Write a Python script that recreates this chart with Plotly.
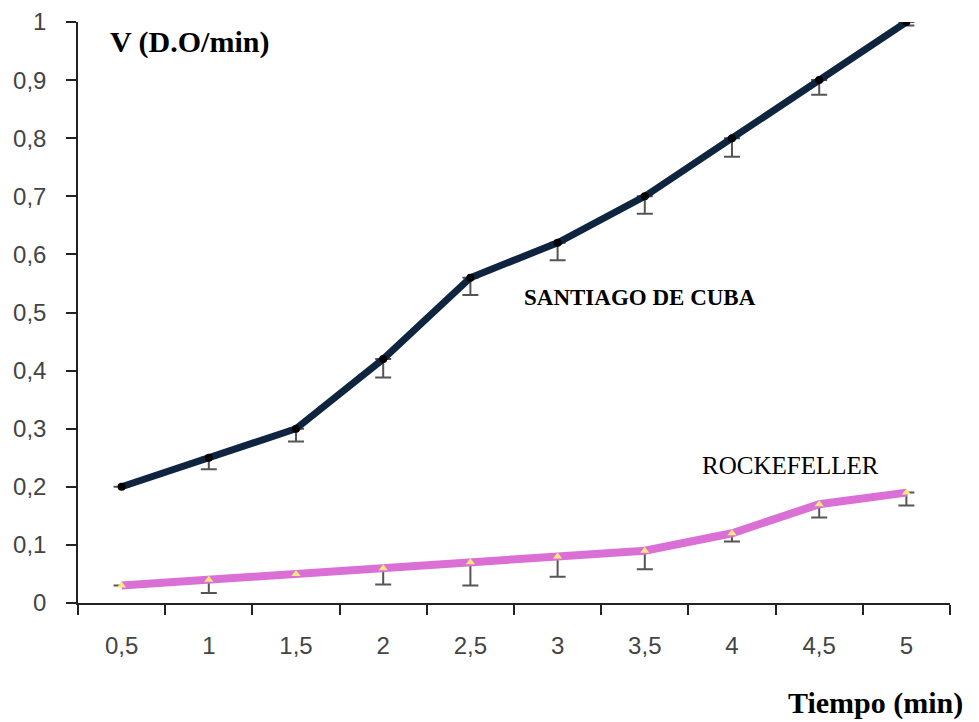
import plotly.graph_objects as go

categories = ["0,5", "1", "1,5", "2", "2,5", "3", "3,5", "4", "4,5", "5"]
santiago = [0.2, 0.25, 0.3, 0.42, 0.56, 0.62, 0.7, 0.8, 0.9, 1.0]
santiago_err = [None, 0.02, 0.022, 0.032, 0.03, 0.03, 0.03, 0.032, 0.025, 0.006]
rockefeller = [0.03, 0.04, 0.05, 0.06, 0.07, 0.08, 0.09, 0.12, 0.17, 0.19]
rockefeller_err = [None, 0.023, None, 0.028, 0.04, 0.035, 0.032, 0.014, 0.023, 0.022]
y_ticks = [0, 0.1, 0.2, 0.3, 0.4, 0.5, 0.6, 0.7, 0.8, 0.9, 1.0]
y_ticktext = ["0", "0,1", "0,2", "0,3", "0,4", "0,5", "0,6", "0,7", "0,8", "0,9", "1"]

fig = go.Figure()
fig.add_trace(go.Scatter(
    x=categories, y=santiago, mode="lines+markers", name="SANTIAGO DE CUBA",
    line=dict(color="#0F243E", width=7),
    marker=dict(color="black", size=8, symbol="circle"),
    error_y=dict(type="data", symmetric=False, array=[0]*len(santiago), arrayminus=santiago_err,
                 color="#555555", thickness=2, width=8),
))
fig.add_trace(go.Scatter(
    x=categories, y=rockefeller, mode="lines+markers", name="ROCKEFELLER",
    line=dict(color="#DA70D6", width=8),
    marker=dict(color="#FFE680", size=8, symbol="triangle-up"),
    error_y=dict(type="data", symmetric=False, array=[0]*len(rockefeller), arrayminus=rockefeller_err,
                 color="#555555", thickness=2, width=8),
))

fig.update_layout(
    width=979, height=722,
    margin=dict(l=78, r=29, t=22, b=119),
    plot_bgcolor="white", paper_bgcolor="white",
    showlegend=False,
    font=dict(family="Liberation Sans", size=24, color="#444444"),
    xaxis=dict(
        type="category", range=[-0.5, 9.5], tickson="boundaries",
        ticks="outside", ticklen=10, tickcolor="#222", tickwidth=1.5,
        showline=True, linecolor="#222", linewidth=1.5, automargin=False,
        showgrid=False, zeroline=False, ticklabelstandoff=20,
    ),
    yaxis=dict(
        range=[0, 1], tickvals=y_ticks, ticktext=y_ticktext,
        ticks="outside", ticklen=10, tickcolor="#222", tickwidth=1.5,
        showline=True, linecolor="#222", linewidth=1.5, automargin=False,
        showgrid=False, zeroline=False, ticklabelstandoff=15,
    ),
    annotations=[
        dict(text="<b>V (D.O/min)</b>", xref="paper", yref="paper", x=0.034, y=0.966,
             xanchor="left", yanchor="middle", showarrow=False,
             font=dict(family="Liberation Serif", size=30, color="black")),
        dict(text="<b>Tiempo (min)</b>", xref="paper", yref="paper", x=1.017, y=-0.172,
             xanchor="right", yanchor="middle", showarrow=False,
             font=dict(family="Liberation Serif", size=30, color="black")),
        dict(text="<b>SANTIAGO DE CUBA</b>", xref="paper", yref="paper", x=0.509, y=0.525,
             xanchor="left", yanchor="middle", showarrow=False,
             font=dict(family="Liberation Serif", size=23, color="black")),
        dict(text="ROCKEFELLER", xref="paper", yref="paper", x=0.713, y=0.236,
             xanchor="left", yanchor="middle", showarrow=False,
             font=dict(family="Liberation Serif", size=25, color="black")),
    ],
)

fig.write_html("out.html", config={"displayModeBar": False},
               post_script="document.body.style.margin='0';")
